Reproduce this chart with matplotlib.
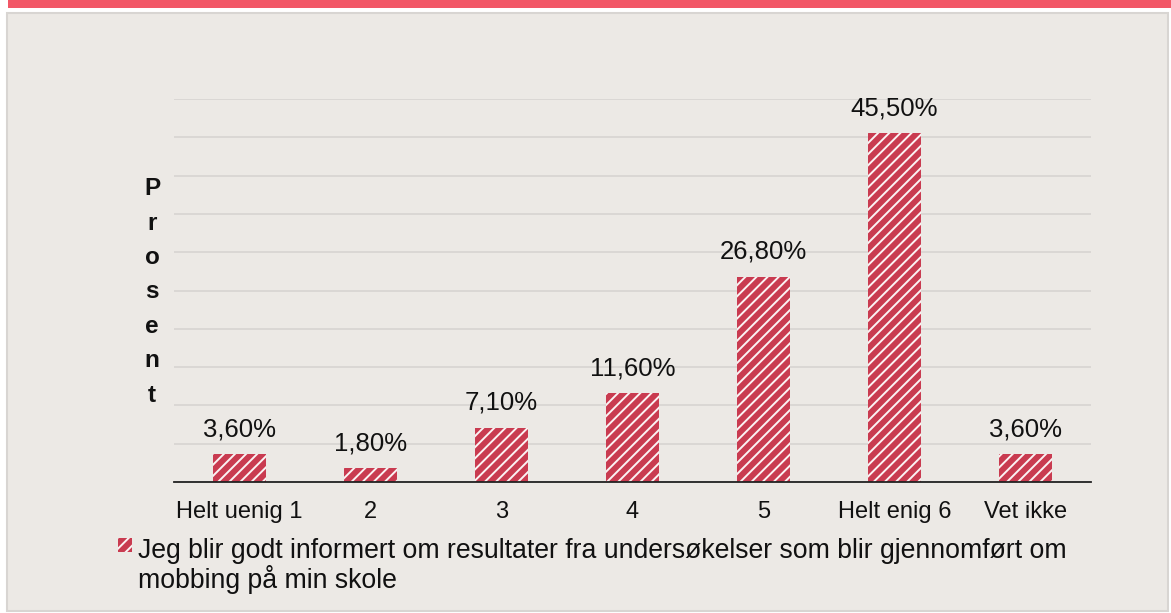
import matplotlib
matplotlib.use("Agg")
import matplotlib.pyplot as plt
from matplotlib.patches import Rectangle

categories = ["Helt uenig 1", "2", "3", "4", "5", "Helt enig 6", "Vet ikke"]
values = [3.6, 1.8, 7.1, 11.6, 26.8, 45.5, 3.6]
value_labels = ["3,60%", "1,80%", "7,10%", "11,60%", "26,80%", "45,50%", "3,60%"]
legend_text = ("Jeg blir godt informert om resultater fra undersøkelser som blir gjennomført om\n"
               "mobbing på min skole")
ylabel = "Prosent"

plt.rcParams['font.family'] = ['Liberation Sans', 'DejaVu Sans']
plt.rcParams['hatch.linewidth'] = 1.4

W, H = 1171, 613
fig = plt.figure(figsize=(W / 100, H / 100), dpi=100)
fig.patch.set_facecolor("white")

bar_red = "#C93B50"
panel_bg = "#ECE9E5"

# top band and panel
fig.patches.append(Rectangle((8 / W, 1 - 8 / H), 1 - 8 / W, 8 / H,
                             transform=fig.transFigure, facecolor="#F25767",
                             edgecolor="none", zorder=-2))
fig.patches.append(Rectangle((7 / W, 1 - 611 / H), (1168 - 7) / W, (611 - 13) / H,
                             transform=fig.transFigure, facecolor=panel_bg,
                             edgecolor="#D8D5D2", linewidth=1.5, zorder=-2))

ax = fig.add_axes([174 / W, 1 - 482 / H, (1091 - 174) / W, (482 - 99) / H])
ax.set_facecolor("none")
ax.set_zorder(1)

x = list(range(len(categories)))
ax.bar(x, values, width=0.4, color=bar_red, edgecolor="#FBF3F4",
       linewidth=0, hatch="///", zorder=3)

for xi, v, lab in zip(x, values, value_labels):
    ax.annotate(lab, (xi, v), xytext=(0, 13), textcoords="offset points",
                ha="center", va="baseline", fontsize=18.5, color="#111111")

ax.set_xlim(-0.5, len(categories) - 0.5)
ax.set_ylim(0, 50)
ax.set_yticks(range(0, 51, 5))
ax.yaxis.grid(True, color="#D9D6D3", linewidth=1.3, zorder=0)
ax.set_axisbelow(True)
ax.tick_params(axis="y", left=False, labelleft=False)
ax.set_xticks(x)
ax.set_xticklabels(categories, fontsize=17, color="#111111")
ax.tick_params(axis="x", length=0, pad=14)

for side in ["top", "right", "left"]:
    ax.spines[side].set_visible(False)
ax.spines["bottom"].set_color("#222222")
ax.spines["bottom"].set_linewidth(1.3)
ax.spines["bottom"].set_zorder(4)

# stacked vertical y label
fig.text(152 / W, 1 - 292 / H, "\n".join(ylabel), ha="center", va="center",
         fontsize=17.5, fontweight="bold", linespacing=1.63, color="#111111")

# legend
fig.patches.append(Rectangle((118 / W, 1 - 552 / H), 14 / W, 14 / H,
                             transform=fig.transFigure, facecolor=bar_red,
                             edgecolor="#FBF3F4", linewidth=0, hatch="///", zorder=2))
fig.text(138 / W, 1 - 538 / H, legend_text, ha="left", va="top",
         fontsize=19.2, linespacing=1.03, color="#111111")

fig.savefig("out.png", dpi=100)
